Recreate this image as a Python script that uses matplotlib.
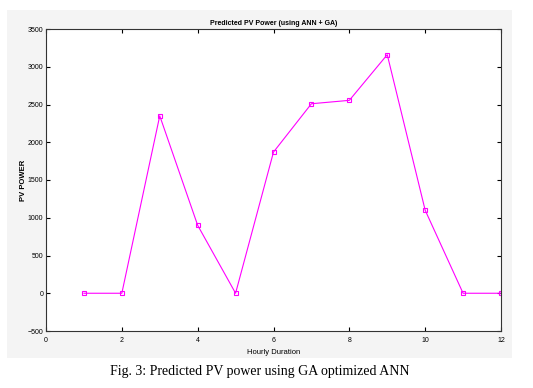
import matplotlib.pyplot as plt
from matplotlib.patches import Rectangle

# data
hours = [1, 2, 3, 4, 5, 6, 7, 8, 9, 10, 11, 12]
pv_power = [0, 0, 2350, 900, 0, 1870, 2510, 2555, 3160, 1100, 0, 0]
x_ticks = [0, 2, 4, 6, 8, 10, 12]
y_ticks = [-500, 0, 500, 1000, 1500, 2000, 2500, 3000, 3500]

W, H = 533, 388
fig = plt.figure(figsize=(W / 100, H / 100), dpi=100, facecolor='white')
plt.rcParams['font.family'] = ['Liberation Sans', 'DejaVu Sans']

# grey matlab figure panel
fig.patches.append(Rectangle((7 / W, 1 - 358 / H), (512 - 7) / W, (358 - 10) / H,
                             transform=fig.transFigure, facecolor='#f4f4f4',
                             edgecolor='none', zorder=-5))

ax = fig.add_axes([46 / W, 1 - 331 / H, (501 - 46) / W, (331 - 29) / H])
ax.set_zorder(2)
ax.set_facecolor('white')
ax.plot(hours, pv_power, color='#ff00ff', linewidth=0.8, marker='s',
        markersize=3, markerfacecolor='none', markeredgewidth=0.8)

ax.set_xlim(0, 12)
ax.set_ylim(-500, 3500)
ax.set_xticks(x_ticks)
ax.set_yticks(y_ticks)
ax.tick_params(direction='in', top=True, right=True, length=3, width=0.8,
               labelsize=5)
ax.tick_params(axis='y', pad=2)
ax.tick_params(axis='x', pad=4)
for s in ax.spines.values():
    s.set_linewidth(0.8)
    s.set_color('#333333')

ax.set_title('Predicted PV Power (using ANN + GA)', fontsize=5,
             fontweight='bold', pad=3)
ax.set_xlabel('Hourly Duration', fontsize=5.5, labelpad=4)
ax.set_ylabel('PV POWER', fontsize=5.5, fontweight='bold', labelpad=0)

fig.text(260 / W, 1 - 372 / H, 'Fig. 3: Predicted PV power using GA optimized ANN',
         family='Liberation Serif', fontsize=10, ha='center', va='center')

fig.savefig('out.png', dpi=100)
